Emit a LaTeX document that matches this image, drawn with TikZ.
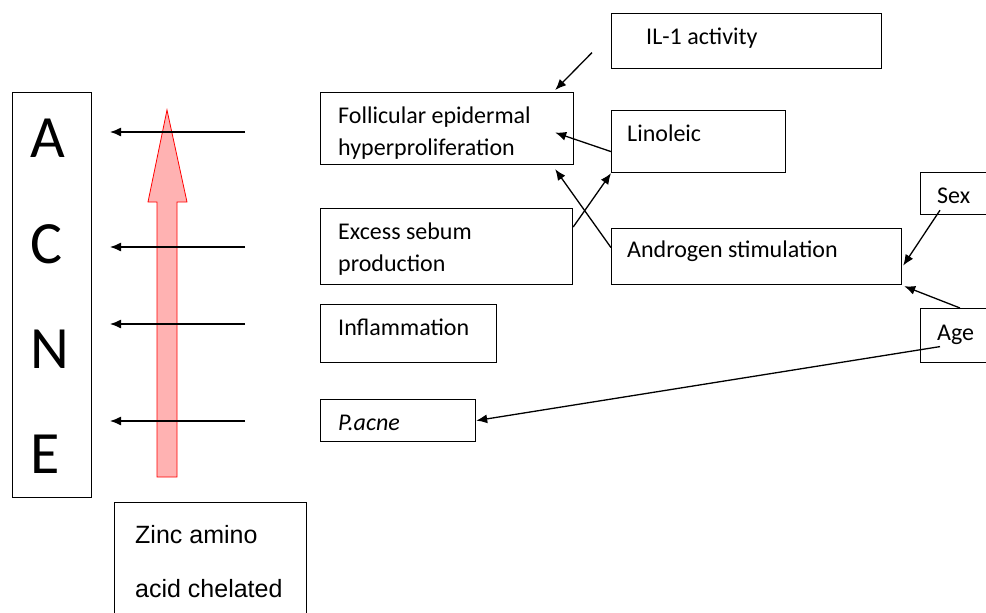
\documentclass[tikz,border=0pt]{standalone}
\usepackage{fontspec}
\setmainfont{Carlito}
\newfontfamily\zincfont{Liberation Sans}
\usetikzlibrary{arrows.meta}
\begin{document}
\begin{tikzpicture}[x=1pt,y=-1pt,
  box/.style={draw,line width=1.2pt,inner sep=0pt,anchor=north west},
  txt/.style={anchor=base west,inner sep=0pt,font=\fontsize{24}{28}\selectfont},
  letter/.style={anchor=base west,inner sep=0pt,font=\fontsize{60}{60}\selectfont},
  ztxt/.style={anchor=base west,inner sep=0pt,font=\zincfont\fontsize{25}{29}\selectfont},
  arr/.style={line width=1.3pt,-{Latex[length=11pt,width=9pt]}},
  redarrow/.style={draw=red,line width=0.8pt,fill=red,fill opacity=0.3}]
\useasboundingbox (0,0) rectangle (986,613);
\clip (0,0) rectangle (986,613);
% boxes
\node[box,minimum width=79pt,minimum height=405pt] (acne) at (12,92) {};
\node[box,minimum width=253pt,minimum height=72pt] (fol) at (320,92) {};
\node[box,minimum width=252pt,minimum height=76pt] (seb) at (320,208) {};
\node[box,minimum width=176pt,minimum height=58pt] (inf) at (320,304) {};
\node[box,minimum width=155pt,minimum height=42pt] (pac) at (320,399) {};
\node[box,minimum width=270pt,minimum height=55pt] (il) at (611,13) {};
\node[box,minimum width=174pt,minimum height=62pt] (lin) at (611,110) {};
\node[box,minimum width=290pt,minimum height=56pt] (andr) at (611,228) {};
\node[box,minimum width=80pt,minimum height=42pt] (sex) at (920,172) {};
\node[box,minimum width=80pt,minimum height=54pt] (age) at (920,308) {};
\node[box,minimum width=192pt,minimum height=140pt] (zinc) at (114,502) {};
% texts
\node[letter] (lA) at (30,157) {A};
\node[letter] (lC) at (30,263) {C};
\node[letter] (lN) at (30,368) {N};
\node[letter] (lE) at (30,473) {E};
\node[txt] (folt1) at (338,123) {Follicular epidermal};
\node[txt] (folt2) at (338,155) {hyperproliferation};
\node[txt] (sebt1) at (338,239) {Excess sebum};
\node[txt] (sebt2) at (338,271) {production};
\node[txt] (inft) at (338,335) {Inflammation};
\node[txt] (pact) at (338,430) {\itshape P.acne};
\node[txt] (ilt) at (646,45) {IL-1 activity};
\node[txt] (lint) at (627,141) {Linoleic};
\node[txt] (andrt) at (627,257) {Androgen stimulation};
\node[txt] (sext) at (937,203) {Sex};
\node[txt] (aget) at (937,340) {Age};
\node[ztxt] (zt1) at (135,543) {Zinc amino};
\node[ztxt] (zt2) at (135,597) {acid chelated};
% red arrow
\draw[redarrow] (157,477) -- (157,202) -- (148,202) -- (167,110) -- (187,202) -- (177,202) -- (177,477) -- cycle;
% horizontal arrows
\coordinate (s1) at (245,132); \coordinate (e1) at (110,132);
\coordinate (s2) at (245,247); \coordinate (e2) at (110,247);
\coordinate (s3) at (245,324); \coordinate (e3) at (110,324);
\coordinate (s4) at (245,421); \coordinate (e4) at (110,421);
\draw[arr] (s1) -- (e1);
\draw[arr] (s2) -- (e2);
\draw[arr] (s3) -- (e3);
\draw[arr] (s4) -- (e4);
% connectors
\draw[arr] ([xshift=-19pt,yshift=-11.5pt]il.west) -- ([xshift=-19pt,yshift=2pt]fol.north east);
\draw[arr] ([yshift=-10pt]lin.west) -- ([xshift=-19pt,yshift=-4pt]fol.east);
\draw[arr] ([yshift=-19pt]seb.north east) -- (lin.south west);
\draw[arr] ([yshift=9pt]andr.west) -- ([xshift=-19pt,yshift=-4pt]fol.south east);
\draw[arr] ([xshift=20pt,yshift=5pt]sex.south west) -- ([xshift=1pt,yshift=-9pt]andr.east);
\draw[arr] ([xshift=40pt]age.north west) -- ([xshift=2pt,yshift=-1pt]andr.south east);
\draw[arr] ([xshift=20pt,yshift=-11pt]age.west) -- (pac.east);
\end{tikzpicture}
\end{document}
